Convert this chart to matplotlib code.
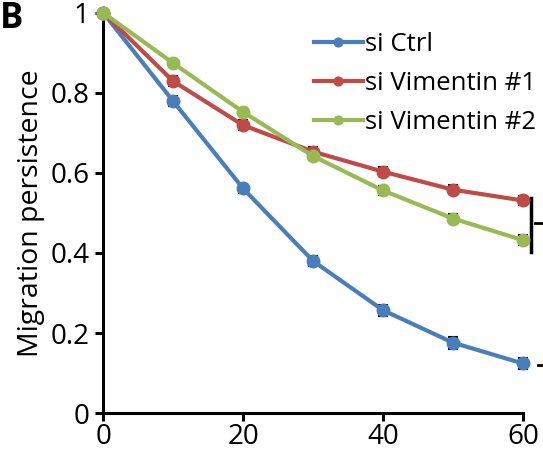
import matplotlib
matplotlib.use("Agg")
import matplotlib.pyplot as plt

plt.rcParams["font.family"] = ["Open Sans", "DejaVu Sans"]

times = [0, 10, 20, 30, 40, 50, 60]
ctrl = [1.0, 0.779, 0.561, 0.380, 0.257, 0.176, 0.124]
vim1 = [1.0, 0.829, 0.719, 0.653, 0.603, 0.558, 0.531]
vim2 = [1.0, 0.874, 0.752, 0.642, 0.556, 0.486, 0.432]
ctrl_err = [0.0, 0.012, 0.012, 0.013, 0.014, 0.015, 0.014]
vim1_err = [0.0, 0.012, 0.012, 0.012, 0.012, 0.012, 0.012]
vim2_err = [0.0, 0.010, 0.010, 0.011, 0.012, 0.012, 0.012]
labels = ["si Ctrl", "si Vimentin #1", "si Vimentin #2"]
colors = ["#4a7ebb", "#be4b48", "#98b954"]

fig = plt.figure(figsize=(5.43, 4.53), dpi=100)
ax = fig.add_axes([0.19, 0.088, 0.773, 0.884])

for ys, errs, lab, col in zip([ctrl, vim1, vim2], [ctrl_err, vim1_err, vim2_err], labels, colors):
    ax.errorbar(times, ys, yerr=errs, ecolor="black", elinewidth=1.2,
                capsize=3.5, capthick=1.5, zorder=2, fmt="none", clip_on=False)
    ax.plot(times, ys, color=col, lw=3, marker="o", markersize=9, label=lab,
            clip_on=False, zorder=3)

ax.set_xlim(0, 60)
ax.set_ylim(0, 1)
ax.set_xticks([0, 20, 40, 60])
ax.set_yticks([0, 0.2, 0.4, 0.6, 0.8, 1])
ax.set_yticklabels(["0", "0.2", "0.4", "0.6", "0.8", "1"])
ax.spines["top"].set_visible(False)
ax.spines["right"].set_visible(False)
for s in ["left", "bottom"]:
    ax.spines[s].set_linewidth(2.2)
ax.tick_params(width=2.2, length=6, labelsize=20, pad=4)
ax.tick_params(axis="x", pad=1)
ax.set_ylabel("Migration persistence", fontsize=20.5, labelpad=4)

leg = ax.legend(loc="upper left", bbox_to_anchor=(0.465, 0.99), frameon=False,
                fontsize=18.5, handlelength=1.9, handletextpad=0.1,
                labelspacing=0.55, markerscale=0.7, borderaxespad=0.2)

# significance marks at the right edge
ax.plot([61.2, 61.2], [0.403, 0.537], color="black", lw=2.5, clip_on=False)
ax.plot([61.7, 63.0], [0.474, 0.474], color="black", lw=2, clip_on=False)
ax.plot([62.1, 63.0], [0.121, 0.121], color="black", lw=2, clip_on=False)

fig.text(0.0, 0.998, "B", fontsize=25, fontweight="bold", va="top", ha="left")

fig.savefig("out.png", dpi=100)
